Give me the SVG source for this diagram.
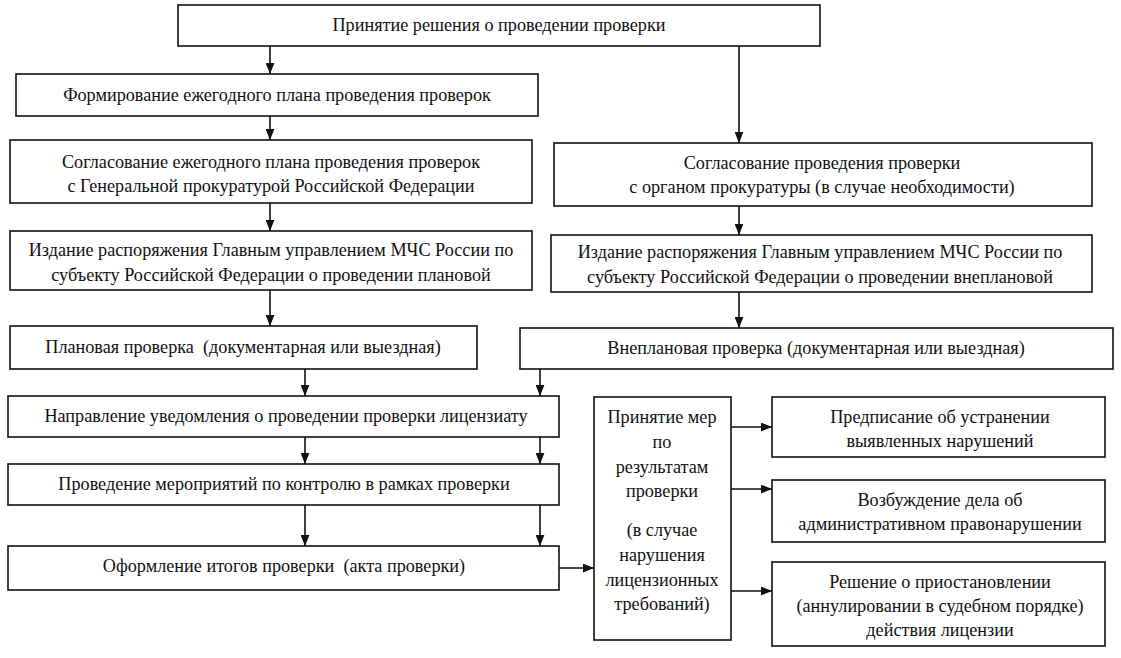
<svg xmlns="http://www.w3.org/2000/svg" width="1121" height="658" viewBox="0 0 1121 658">
<defs>
<style>
rect{fill:#fff;stroke:#111;stroke-width:1.6}
text{font-family:"Liberation Serif","Times New Roman",serif;font-size:18.2px;fill:#111;text-anchor:middle;dominant-baseline:central;white-space:pre}
.c line{stroke:#111;stroke-width:1.6;marker-end:url(#ah)}
</style>
<marker id="ah" viewBox="0 0 10 8" refX="10" refY="4" markerWidth="11" markerHeight="9" orient="auto" markerUnits="userSpaceOnUse">
<path d="M0,0 L10,4 L0,8 z" fill="#111"/>
</marker>
</defs>
<rect x="0" y="0" width="1121" height="658" style="fill:#fff;stroke:none"/>
<g id="n1"><rect x="178" y="5" width="642" height="41"/><text x="499" y="25">Принятие решения о проведении проверки</text></g>
<g id="n2"><rect x="16" y="74" width="522" height="42"/><text x="277" y="95">Формирование ежегодного плана проведения проверок</text></g>
<g id="n3"><rect x="10" y="140" width="522" height="63"/><text x="271" y="162">Согласование ежегодного плана проведения проверок</text><text x="271" y="186">с Генеральной прокуратурой Российской Федерации</text></g>
<g id="n4"><rect x="554" y="143" width="538" height="63"/><text x="822" y="163">Согласование проведения проверки</text><text x="822" y="187">с органом прокуратуры (в случае необходимости)</text></g>
<g id="n5"><rect x="10" y="231" width="522" height="59"/><text x="271" y="250">Издание распоряжения Главным управлением МЧС России по</text><text x="271" y="275">субъекту Российской Федерации о проведении плановой</text></g>
<g id="n6"><rect x="551" y="235" width="541" height="57"/><text x="820" y="252">Издание распоряжения Главным управлением МЧС России по</text><text x="820" y="277">субъекту Российской Федерации о проведении внеплановой</text></g>
<g id="n7"><rect x="10" y="326" width="467" height="43"/><text x="243" y="347">Плановая проверка  (документарная или выездная)</text></g>
<g id="n8"><rect x="520" y="328" width="593" height="41"/><text x="816" y="348">Внеплановая проверка (документарная или выездная)</text></g>
<g id="n9"><rect x="8" y="396" width="551" height="41"/><text x="286" y="416">Направление уведомления о проведении проверки лицензиату</text></g>
<g id="n10"><rect x="8" y="464" width="551" height="41"/><text x="284" y="484">Проведение мероприятий по контролю в рамках проверки</text></g>
<g id="n11"><rect x="8" y="546" width="551" height="44"/><text x="284" y="566">Оформление итогов проверки  (акта проверки)</text></g>
<g id="n12"><rect x="594" y="397" width="137" height="243"/>
<text x="662" y="417">Принятие мер</text><text x="662" y="442">по</text><text x="662" y="467">результатам</text><text x="662" y="491">проверки</text>
<text x="662" y="530">(в случае</text><text x="662" y="555">нарушения</text><text x="662" y="580">лицензионных</text><text x="662" y="604">требований)</text></g>
<g id="n13"><rect x="772" y="397" width="333" height="60"/><text x="940" y="417">Предписание об устранении</text><text x="940" y="441">выявленных нарушений</text></g>
<g id="n14"><rect x="772" y="480" width="333" height="62"/><text x="940" y="500">Возбуждение дела об</text><text x="940" y="524">административном правонарушении</text></g>
<g id="n15"><rect x="772" y="562" width="333" height="84"/><text x="940" y="582">Решение о приостановлении</text><text x="940" y="606">(аннулировании в судебном порядке)</text><text x="940" y="630">действия лицензии</text></g>
<g class="c" id="connectors">
<line x1="270" y1="46" x2="270" y2="74"/>
<line x1="270" y1="116" x2="270" y2="140"/>
<line x1="270" y1="203" x2="270" y2="231"/>
<line x1="270" y1="290" x2="270" y2="326"/>
<line x1="739" y1="46" x2="739" y2="143"/>
<line x1="739" y1="206" x2="739" y2="235"/>
<line x1="739" y1="292" x2="739" y2="328"/>
<line x1="305" y1="369" x2="305" y2="396"/>
<line x1="540" y1="369" x2="540" y2="396"/>
<line x1="305" y1="437" x2="305" y2="464"/>
<line x1="540" y1="437" x2="540" y2="464"/>
<line x1="305" y1="505" x2="305" y2="546"/>
<line x1="540" y1="505" x2="540" y2="546"/>
<line x1="559" y1="568" x2="594" y2="568"/>
<line x1="731" y1="427" x2="772" y2="427"/>
<line x1="731" y1="489" x2="772" y2="489"/>
<line x1="731" y1="591" x2="772" y2="591"/>
</g>
</svg>
